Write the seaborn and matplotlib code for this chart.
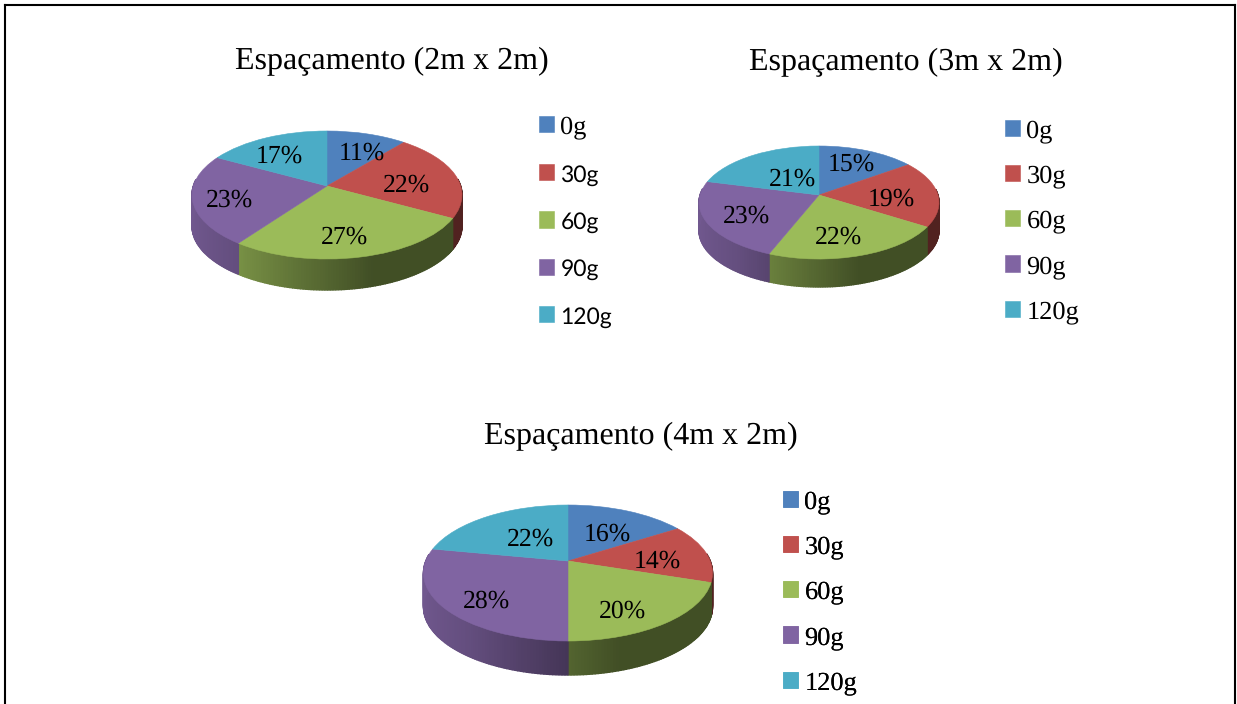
import numpy as np
import seaborn as sns
import matplotlib.pyplot as plt
from matplotlib.transforms import Transform

# ---------------- DATA ----------------
DOSES = ["0g", "30g", "60g", "90g", "120g"]
VALUES_2M = [11, 22, 27, 23, 17]
VALUES_3M = [15, 19, 22, 23, 21]
VALUES_4M = [16, 14, 20, 28, 22]
TITLE_2M = "Espaçamento (2m x 2m)"
TITLE_3M = "Espaçamento (3m x 2m)"
TITLE_4M = "Espaçamento (4m x 2m)"
COLORS = ["#4F81BD", "#C0504D", "#9BBB59", "#8064A2", "#4BACC6"]

SERIF = "Liberation Serif"
SANS = "Lato"

sns.set_theme(style="white")
plt.rcParams["font.family"] = [SERIF, "DejaVu Serif"]
plt.rcParams["text.hinting"] = "no_hinting"
plt.rcParams["text.color"] = "black"
palette = sns.color_palette(COLORS)


class PieView(Transform):
    """Tilts a unit pie: the back of the disc shrinks, the front grows."""

    input_dims = 2
    output_dims = 2
    has_inverse = False

    def __init__(self, hub, rx, back, front):
        super().__init__()
        self.hub = hub
        self.b = (front - back) / (front + back)
        self.a = back * (1 + self.b)
        self.w = rx * np.sqrt(1 - self.b**2)

    def transform_non_affine(self, values):
        values = np.asarray(values, dtype=float)
        x, y = values[:, 0], values[:, 1]
        k = 1 + self.b * y
        return np.column_stack(
            [self.hub[0] + self.w * x / k, self.hub[1] - self.a * y / k]
        )


def side_shade(color, t):
    # left of the rim is lit, right of it falls into shadow
    f = np.interp(t, [0, 0.2, 0.65, 1], [0.88, 0.78, 0.42, 0.42])
    return tuple(c * f for c in color)


def draw_pie(ax, values, view, depth, label_xy):
    # rim, drawn as thin strips so the shading can change along it
    edges = 360 * np.cumsum([0] + values) / sum(values)
    for i, color in enumerate(palette):
        steps = np.arange(edges[i], edges[i + 1] + 1.0, 1.0)
        steps = np.clip(steps, edges[i], edges[i + 1])
        theta = np.radians(steps)
        rim = view.transform(np.column_stack([np.sin(theta), np.cos(theta)]))
        for j in range(len(rim) - 1):
            if np.cos(theta[j]) > 0.1 and np.cos(theta[j + 1]) > 0.1:
                continue
            xs = [rim[j, 0], rim[j + 1, 0], rim[j + 1, 0], rim[j, 0]]
            ys = [rim[j, 1], rim[j + 1, 1], rim[j + 1, 1] + depth, rim[j, 1] + depth]
            shade = side_shade(color, (np.sin(theta[j]) + 1) / 2)
            ax.fill(xs, ys, color=shade, lw=1.0)

    wedges, _, autotexts = ax.pie(
        values,
        colors=palette,
        startangle=90,
        counterclock=False,
        autopct="%.0f%%",
        frame=True,
        wedgeprops={"linewidth": 0.4},
    )
    for w, color in zip(wedges, palette):
        w.set_edgecolor(color)
        w.set_transform(view + ax.transData)
    for txt, xy in zip(autotexts, label_xy):
        txt.set_position(xy)
        txt.set_fontsize(18.5)
        txt.set_color("black")
        txt.set_ha("center")
        txt.set_va("center")
    return wedges


fig = plt.figure(figsize=(12.37, 7.04), dpi=100)
ax = fig.add_axes([5 / 1237, 0, 1230 / 1237, 699 / 704])

charts = [
    {
        "values": VALUES_2M,
        "title": TITLE_2M,
        "title_xy": (391.5, 61),
        "view": PieView((327, 186), 135, 55, 73),
        "depth": 31,
        "labels": [(362, 153), (406, 185), (344, 237), (229, 200), (279, 156)],
        "legend_xy": (539, 115),
        "spacing": 0.97,
        "sans": [1, 2, 3, 4],
    },
    {
        "values": VALUES_3M,
        "title": TITLE_3M,
        "title_xy": (906, 62),
        "view": PieView((819, 195), 120, 49, 64),
        "depth": 28,
        "labels": [(851, 164), (891, 199), (838, 237), (746, 216), (792, 179)],
        "legend_xy": (1005, 119),
        "spacing": 0.82,
        "sans": [],
    },
    {
        "values": VALUES_4M,
        "title": TITLE_4M,
        "title_xy": (641, 436),
        "view": PieView((568, 561), 144.5, 56, 80),
        "depth": 34,
        "labels": [(607, 534), (657, 561), (622, 611), (486, 601), (530, 539)],
        "legend_xy": (783, 490),
        "spacing": 0.82,
        "sans": [],
    },
]

for chart in charts:
    wedges = draw_pie(ax, chart["values"], chart["view"], chart["depth"], chart["labels"])
    ax.text(*chart["title_xy"], chart["title"], fontsize=23, ha="center", va="center")
    leg = ax.legend(
        wedges,
        DOSES,
        loc="upper left",
        bbox_to_anchor=chart["legend_xy"],
        bbox_transform=ax.transData,
        frameon=False,
        fontsize=19,
        borderpad=0,
        borderaxespad=0,
        handlelength=0.57,
        handleheight=0.57,
        handletextpad=0.24,
        labelspacing=chart["spacing"],
    )
    for i in chart["sans"]:
        leg.get_texts()[i].set_fontfamily(SANS)
        leg.get_texts()[i].set_fontsize(16.5)
    ax.add_artist(leg)

# pie() asks for a round axes, the tilt needs the plain pixel one
ax.set_aspect("auto")
ax.set_xlim(5, 1235)
ax.set_ylim(704, 5)
ax.set_xticks([])
ax.set_yticks([])
ax.spines["bottom"].set_visible(False)
for side in ["left", "top", "right"]:
    ax.spines[side].set_color("black")
    ax.spines[side].set_linewidth(1.5)

plt.savefig("out.png", dpi=100)
plt.close()
